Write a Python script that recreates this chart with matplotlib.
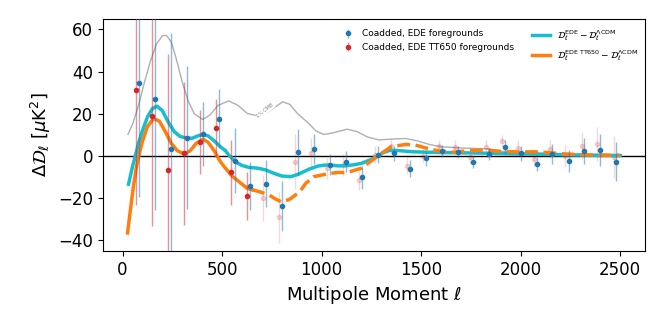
import matplotlib
matplotlib.use("Agg")
import matplotlib.pyplot as plt

# binned residuals, coadded spectra with EDE foregrounds
ell_ede = [84, 163, 243, 324, 403, 483, 563, 642, 723, 802, 882, 962, 1043, 1122,
           1201, 1281, 1362, 1442, 1523, 1603, 1684, 1763, 1841, 1922, 2001, 2081,
           2160, 2241, 2321, 2400, 2480]
d_ede = [34.6, 26.9, 3.5, 8.7, 10.5, 17.6, -2.2, -14.2, -13.1, -23.8, 2.0, 3.5, -4.1, -2.8,
         -10.1, 0.5, 1.3, -6.0, -1.1, 2.4, 1.9, -2.8, 0.9, 4.4, 1.3, -3.8,
         0.9, -2.4, 2.2, 2.8, -2.8]
err_ede = [54, 52.4, 55, 34, 15.1, 14, 15.3, 11.5, 11.2, 11.8, 11, 7.1, 5, 5,
           5.5, 4, 3.5, 4, 3.5, 3, 3, 3, 3, 3, 3.5, 3.5,
           4.7, 5.3, 6.1, 7.5, 9.3]

# same with TT650 foregrounds (only ell < 650 highlighted)
ell_tt = [69, 149, 230, 309, 387, 468, 547, 627, 707, 788, 867, 946, 1028, 1107,
          1187, 1267, 1347, 1427, 1509, 1590, 1668, 1745, 1824, 1905, 1987, 2068,
          2147, 2225, 2306, 2386, 2467]
d_tt = [31.2, 19.0, -6.8, 1.3, 6.5, 13.1, -7.7, -18.9, -20.0, -29.1, -2.7, 1.3, -5.8, -4.3,
        -11.3, 0.5, 4.7, -4.7, 0.0, 4.7, 4.4, -0.6, 4.4, 7.1, 3.9, -1.4,
        3.3, 0.0, 4.9, 5.7, -0.3]
err_tt = [54.3, 52.4, 55.3, 33.9, 15.2, 13.8, 15.4, 11.4, 11, 12, 13, 7, 5, 5,
          5, 4, 3.5, 4, 3.5, 3, 3, 3, 3, 3, 3.5, 3.5,
          4.3, 5, 6.5, 8, 10]

# EDE - LCDM theory difference
ell_cyan = [30, 50, 64, 80, 100, 125, 150, 173, 200, 230, 260, 290, 324, 350, 380, 407,
            430, 460, 490, 517, 533, 567, 600, 634, 680, 718, 760, 800, 844, 880, 936,
            980, 1020, 1050, 1087, 1122, 1160, 1200, 1240, 1283, 1310, 1340, 1380,
            1456, 1530, 1606, 1700, 1832, 1950, 2100, 2250, 2400, 2500]
d_cyan = [-13.4, -5, 0, 6, 12, 18.5, 22.5, 23.6, 21.5, 16, 11.5, 9.2, 8.5, 8.4, 9.6, 10.2,
          9.5, 7.2, 4.5, 2.5, 0.5, -2.7, -4.5, -5.4, -5.8, -6.6, -8.2, -9.5, -9.8, -8.8, -6.3,
          -4.8, -4.3, -4.4, -4.7, -4.6, -4.2, -3.5, -2.0, 0.0, 1.6, 2.6, 2.6,
          2.0, 1.8, 1.6, 1.5, 1.3, 1.0, 0.8, 0.5, 0.3, 0.2]

# EDE TT650 - LCDM (solid below 650, dashed above)
ell_or1 = [25, 40, 55, 70, 81, 100, 125, 156, 185, 215, 245, 275, 310, 340, 370, 404,
           430, 460, 490, 517, 550, 584, 626, 651]
d_or1 = [-36.5, -25, -14, -5, 0, 7, 14, 17.8, 16.5, 11.5, 6, 2.5, 0.9, 2.5, 6, 7.9,
         6.5, 2.5, -2.5, -5.8, -9.5, -12.1, -15.3, -16]
ell_or2 = [651, 690, 735, 770, 800, 840, 890, 920, 961, 1028, 1080, 1129, 1171, 1200,
           1240, 1283, 1320, 1350, 1425, 1470, 1531, 1598, 1667, 1730, 1831, 1900, 2000,
           2068, 2150, 2200, 2300, 2400, 2500]
d_or2 = [-16, -17, -18.4, -20.5, -21.8, -20.5, -17, -13, -9.8, -8.5, -7.8, -7.9, -6.6, -5.8,
         -3, 0, 2.5, 4.4, 5.5, 5.2, 3.6, 2.2, 1.8, 2.5, 2.8, 2.2, 1.9,
         2.0, 1.5, 1.1, 0.6, 0.4, 0.3]

# 1% of the CMB TT spectrum
ell_cmb = [27, 50, 80, 110, 140, 170, 200, 220, 245, 270, 300, 330, 360, 403, 440, 480,
           533, 580, 626, 693, 740, 805, 840, 880, 936, 970, 1011, 1060, 1129, 1180,
           1230, 1288, 1350, 1422, 1480, 1540, 1598, 1700, 1765, 1830, 1905, 2000,
           2100, 2200, 2300, 2400, 2500]
d_cmb = [10.2, 15, 24, 35, 45, 53, 57, 57.2, 54, 46, 35, 26, 20, 17.3, 19.5, 24,
         26.1, 24, 20.2, 18.6, 21.5, 25.7, 24.5, 20, 15.4, 12, 10.2, 11, 12.7, 11.5,
         9, 7.6, 8, 8.3, 7.2, 5.5, 4.4, 3.8, 3.6, 3.4, 2.2, 1.6,
         1.3, 1.1, 0.8, 0.7, 0.6]

fig, ax = plt.subplots(figsize=(6.64, 3.31), dpi=100)
fig.subplots_adjust(left=0.155, right=0.971, top=0.943, bottom=0.242)

ax.axhline(0, color='k', lw=1, zorder=1)
ax.plot(ell_cmb, d_cmb, color='#b0b0b0', lw=1, zorder=1)
ax.text(718, 21.5, '1% CMB', fontsize=3.5, color='gray', rotation=38,
        ha='center', va='center', zorder=2,
        bbox=dict(facecolor='white', edgecolor='none', pad=0.5))

l1, = ax.plot(ell_cyan, d_cyan, color='#17becf', lw=2.5, zorder=3,
              label=r'$\mathcal{D}_\ell^{\rm EDE} - \mathcal{D}_\ell^{\Lambda{\rm CDM}}$')
l2, = ax.plot(ell_or1, d_or1, color='#ff7f0e', lw=2.5, zorder=3,
              label=r'$\mathcal{D}_\ell^{\rm EDE\ TT650} - \mathcal{D}_\ell^{\Lambda{\rm CDM}}$')
ax.plot(ell_or2, d_or2, color='#ff7f0e', lw=2.5, ls='--', zorder=3)

# faded TT650 points above ell=650
hi = [i for i in range(len(ell_tt)) if ell_tt[i] > 650]
lo = [i for i in range(len(ell_tt)) if ell_tt[i] <= 650]
eb = ax.errorbar([ell_tt[i] for i in hi], [d_tt[i] for i in hi], yerr=[err_tt[i] for i in hi],
                 fmt='o', ms=3, color='#d62728', elinewidth=1, alpha=0.18, zorder=2)
e_red = ax.errorbar([ell_tt[i] for i in lo], [d_tt[i] for i in lo], yerr=[err_tt[i] for i in lo],
                    fmt='o', ms=3, color='#d62728', elinewidth=1, zorder=4,
                    label='Coadded, EDE TT650 foregrounds')
e_red[2][0].set_alpha(0.5)
e_blue = ax.errorbar(ell_ede, d_ede, yerr=err_ede, fmt='o', ms=3, color='#1f77b4',
                     elinewidth=1, zorder=4, label='Coadded, EDE foregrounds')
e_blue[2][0].set_alpha(0.5)

leg1 = ax.legend(handles=[e_blue, e_red], loc='upper left', bbox_to_anchor=(0.424, 0.99),
                 frameon=False, fontsize=6.5, handlelength=1.5)
ax.add_artist(leg1)
ax.legend(handles=[l1, l2], loc='upper left', bbox_to_anchor=(0.776, 0.995),
          frameon=False, fontsize=6.5, handlelength=2)

ax.set_ylim(-45, 65)
ax.set_xlabel(r'Multipole Moment $\ell$', fontsize=13)
ax.set_ylabel(r'$\Delta\mathcal{D}_\ell$ [$\mu$K$^2$]', fontsize=13)
ax.tick_params(labelsize=12)

fig.savefig('out.png', dpi=100)
